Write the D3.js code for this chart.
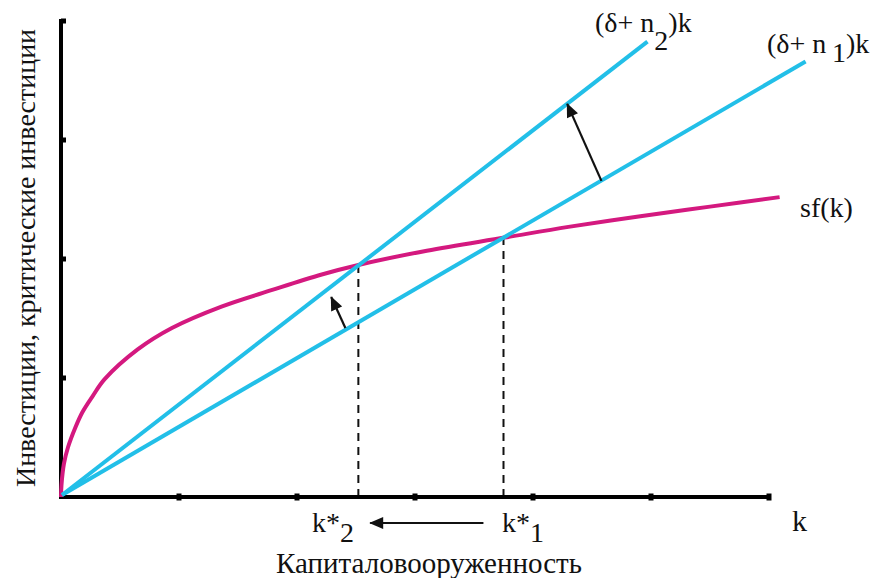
<!DOCTYPE html>
<html>
<head>
<meta charset="utf-8">
<script src="https://cdn.jsdelivr.net/npm/d3@7"></script>
<style>
  body { margin: 0; background: #fff; }
</style>
</head>
<body>
<div id="chart"></div>
<script>
// capital per worker ticks and investment ticks
const kTicks = [1, 2, 3, 4, 5, 6];
const yTicks = [1, 2, 3, 4];

// sf(k)
const sfK = [0, 0.004, 0.025, 0.06, 0.12, 0.18, 0.27, 0.37, 0.65, 0.94, 1.36, 1.79, 2.21, 2.52, 3.1, 3.76, 4.3, 4.91, 5.5, 6.09];
const sfY = [0, 0.1, 0.28, 0.42, 0.58, 0.71, 0.85, 0.99, 1.24, 1.42, 1.60, 1.74, 1.87, 1.95, 2.07, 2.18, 2.27, 2.36, 2.44, 2.52];

// break-even lines (δ+n)k
const slopes = [0.58, 0.77];
const lineEndK = [6.31, 4.97];

// steady states
const kStar = [3.75, 2.52];

const FONT = "Liberation Serif";

var margin = { left: 61, right: 105, top: 21, bottom: 81 },
    width = 874, height = 578;

const x = d3.scaleLinear().domain([0, 6]).range([margin.left, 769]);
const y = d3.scaleLinear().domain([0, 4]).range([height - margin.bottom, margin.top]);

const svg = d3.select("#chart").append("svg")
    .attr("width", width)
    .attr("height", height);

const defs = svg.append("defs");
defs.append("marker")
    .attr("id", "head")
    .attr("viewBox", "0 0 14 12")
    .attr("refX", 13)
    .attr("refY", 6)
    .attr("markerUnits", "userSpaceOnUse")
    .attr("markerWidth", 15)
    .attr("markerHeight", 12)
    .attr("orient", "auto")
    .append("path")
    .attr("d", "M0,0 L14,6 L0,12 Z")
    .attr("fill", "#111");

// dashed guides
svg.selectAll(".guide")
    .data(kStar)
    .enter().append("line")
    .attr("class", "guide")
    .attr("x1", d => x(d)).attr("x2", d => x(d))
    .attr("y1", y(0)).attr("y2", (d, i) => y(i === 0 ? 2.18 : 1.95))
    .attr("stroke", "#111")
    .attr("stroke-width", 2)
    .attr("stroke-dasharray", "8,6");

// axes
svg.append("path")
    .attr("d", `M${x(0) + 5},${y(4)} H${x(0)} V${y(0)} H${x(6)}`)
    .attr("fill", "none")
    .attr("stroke", "#000")
    .attr("stroke-width", 4);

svg.selectAll(".ytick")
    .data(yTicks)
    .enter().append("rect")
    .attr("x", x(0))
    .attr("y", d => y(d) - 2.5)
    .attr("width", 5)
    .attr("height", 5)
    .attr("fill", "#000");

svg.selectAll(".xtick")
    .data(kTicks)
    .enter().append("rect")
    .attr("x", d => x(d) - 2.5)
    .attr("y", y(0) - 3.5)
    .attr("width", 5)
    .attr("height", 7)
    .attr("fill", "#000");

// sf(k)
const sfLine = d3.line()
    .x((d, i) => x(sfK[i]))
    .y(d => y(d))
    .curve(d3.curveCatmullRom.alpha(0.5));

svg.append("path")
    .attr("d", sfLine(sfY))
    .attr("fill", "none")
    .attr("stroke", "#d4197f")
    .attr("stroke-width", 4);

// (δ+n)k lines
svg.selectAll(".breakeven")
    .data(slopes)
    .enter().append("line")
    .attr("x1", x(0) + 1).attr("y1", y(0) - 2)
    .attr("x2", (d, i) => x(lineEndK[i]))
    .attr("y2", (d, i) => y(d * lineEndK[i]))
    .attr("stroke", "#22bfe8")
    .attr("stroke-width", 4);

// shift arrows
const arrows = [
    { from: [4.58, 0.58 * 4.58], to: [4.29, 0.77 * 4.29] },
    { from: [2.41, 1.42], to: [2.29, 1.68] }
];
svg.selectAll(".shift")
    .data(arrows)
    .enter().append("line")
    .attr("x1", d => x(d.from[0])).attr("y1", d => y(d.from[1]))
    .attr("x2", d => x(d.to[0])).attr("y2", d => y(d.to[1]))
    .attr("stroke", "#111")
    .attr("stroke-width", 2.2)
    .attr("marker-end", "url(#head)");

// arrow along the k axis
svg.append("line")
    .attr("x1", x(3.58)).attr("x2", x(2.62))
    .attr("y1", 523).attr("y2", 523)
    .attr("stroke", "#111")
    .attr("stroke-width", 2.2)
    .attr("marker-end", "url(#head)");

// labels
function addText(px, py, size) {
    return svg.append("text")
        .attr("x", px).attr("y", py)
        .attr("font-family", FONT)
        .attr("font-size", size)
        .attr("fill", "#111");
}

function subLabel(px, py, before, sub, after, size, shift) {
    const t = addText(px, py, size);
    t.append("tspan").text(before);
    t.append("tspan").attr("dy", shift).text(sub);
    if (after) t.append("tspan").attr("dy", -shift).text(after);
    return t;
}

subLabel(595, 32, "(δ+ n", "2", ")k", 28, 18);
subLabel(767, 53, "(δ+ n", "\u20091", ")k", 28, 9);
subLabel(312, 532, "k*", "2", null, 28, 10);
subLabel(502, 532, "k*", "1", null, 28, 10);

addText(800, 217, 28).text("sf(k)");
addText(792, 531, 30).text("k");

addText(429, 573, 29)
    .attr("text-anchor", "middle")
    .text("Капиталовооруженность");

svg.append("text")
    .attr("transform", "translate(35,258) rotate(-90)")
    .attr("text-anchor", "middle")
    .attr("font-family", FONT)
    .attr("font-size", 28)
    .attr("fill", "#111")
    .text("Инвестиции, критические инвестиции");
</script>
</body>
</html>
